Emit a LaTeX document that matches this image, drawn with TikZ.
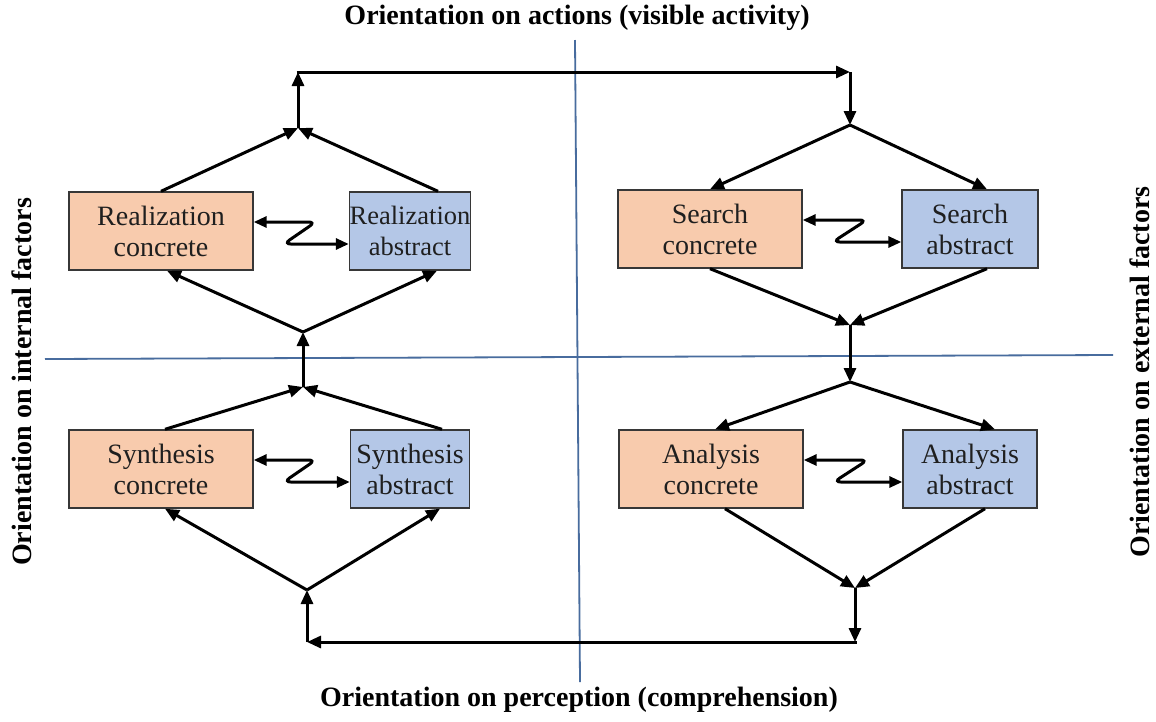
\documentclass[tikz,border=0pt]{standalone}
\usepackage{fontspec}
\setmainfont{Liberation Serif}
\usetikzlibrary{arrows.meta}
\definecolor{boxorange}{RGB}{248,203,173}
\definecolor{boxblue}{RGB}{180,199,231}
\definecolor{axisblue}{RGB}{72,108,158}
\definecolor{boxline}{RGB}{55,55,55}
\begin{document}
\begin{tikzpicture}[x=1pt,y=-1pt,
  box/.style={draw=boxline, line width=1.4pt, minimum height=78pt, inner sep=0pt, align=center, font=\fontsize{28}{31}\selectfont, text=black!88},
  conc/.style={box, fill=boxorange, minimum width=184pt},
  abst/.style={box, fill=boxblue},
  conn/.style={line width=3pt, -{Triangle[length=14pt,width=12pt]}},
  axis/.style={draw=axisblue, line width=1.8pt},
  title/.style={font=\bfseries\fontsize{28}{32}\selectfont},
  zig/.style={line width=3pt, rounded corners=7pt, {Triangle[length=13pt,width=11pt]}-{Triangle[length=13pt,width=11pt]}}
]
\useasboundingbox[fill=white] (0,0) rectangle (1156,721);

% axes
\coordinate (axT) at (575,40);
\coordinate (axB) at (580,682);
\coordinate (axL) at (45,359);
\coordinate (axR) at (1113,355);
\draw[axis] (axT) -- (axB);
\draw[axis] (axL) -- (axR);

% titles
\node[title] (tTop) at (577,18) {Orientation on actions (visible activity)};
\node[title] (tBot) at (579,700) {Orientation on perception (comprehension)};
\node[title, rotate=90] (tLeft) at (22,382) {Orientation on internal factors};
\node[title, rotate=90] (tRight) at (1140,372) {Orientation on external factors};

% boxes
\node[conc] (RC) at (161,231) {Realization\\concrete};
\node[abst, minimum width=121pt, font=\fontsize{26.5}{31}\selectfont] (RA) at (410,231) {Realization\\abstract};
\node[conc] (SC) at (710,229) {Search\\concrete};
\node[abst, minimum width=136pt] (SA) at (970,229) {Search\\abstract};
\node[conc] (SyC) at (161,469) {Synthesis\\concrete};
\node[abst, minimum width=119pt] (SyA) at (410,469) {Synthesis\\abstract};
\node[conc] (AC) at (711,469) {Analysis\\concrete};
\node[abst, minimum width=134pt] (AA) at (970,469) {Analysis\\abstract};

% zigzag links
\draw[zig] ([yshift=9pt]RC.east) -- ++(62,0) -- ++(-32,22) -- ([yshift=-13pt]RA.west);
\draw[zig] ([yshift=9pt]SC.east) -- ++(64,0) -- ++(-34,22) -- ([yshift=-13pt]SA.west);
\draw[zig] ([yshift=9pt]SyC.east) -- ++(62,0) -- ++(-32,22) -- ([yshift=-13pt]SyA.west);
\draw[zig] ([yshift=9pt]AC.east) -- ++(64,0) -- ++(-34,22) -- ([yshift=-13pt]AA.west);

% junction points
\coordinate (TL) at (298,128);
\coordinate (TLtop) at (298,72);
\coordinate (TRtop) at (850,72);
\coordinate (TR) at (850,125);
\coordinate (RM1) at (850,325);
\coordinate (RM2) at (850,382);
\coordinate (BR) at (855,588);
\coordinate (BRbot) at (855,642);
\coordinate (BLbot) at (307,642);
\coordinate (BL) at (307,590);
\coordinate (LM2) at (303,387);
\coordinate (LM1) at (303,332);

% connectors
\draw[conn] (RC.north) -- (TL);
\draw[conn] ([xshift=28pt]RA.north) -- (TL);
\draw[conn] (TL) -- (TLtop);
\draw[conn] ([xshift=-1.5pt]TLtop) -- (TRtop);
\draw[conn] (TRtop) -- (TR);
\draw[conn] (TR) -- (SC.north);
\draw[conn] (TR) -- ([xshift=17pt]SA.north);
\draw[conn] (SC.south) -- (RM1);
\draw[conn] ([xshift=17pt]SA.south) -- (RM1);
\draw[conn] (RM1) -- (RM2);
\draw[conn] (RM2) -- ([xshift=4pt]AC.north);
\draw[conn] (RM2) -- ([xshift=25pt]AA.north);
\draw[conn] ([xshift=14pt]AC.south) -- (BR);
\draw[conn] ([xshift=15pt]AA.south) -- (BR);
\draw[conn] (BR) -- (BRbot);
\draw[conn] ([xshift=1.5pt]BRbot) -- (BLbot);
\draw[conn] (BLbot) -- (BL);
\draw[conn] (BL) -- ([xshift=4pt]SyC.south);
\draw[conn] (BL) -- ([xshift=30pt]SyA.south);
\draw[conn] ([xshift=4pt]SyC.north) -- (LM2);
\draw[conn] ([xshift=32pt]SyA.north) -- (LM2);
\draw[conn] (LM2) -- (LM1);
\draw[conn] (LM1) -- ([xshift=6pt]RC.south);
\draw[conn] (LM1) -- ([xshift=27pt]RA.south);
\end{tikzpicture}
\end{document}
